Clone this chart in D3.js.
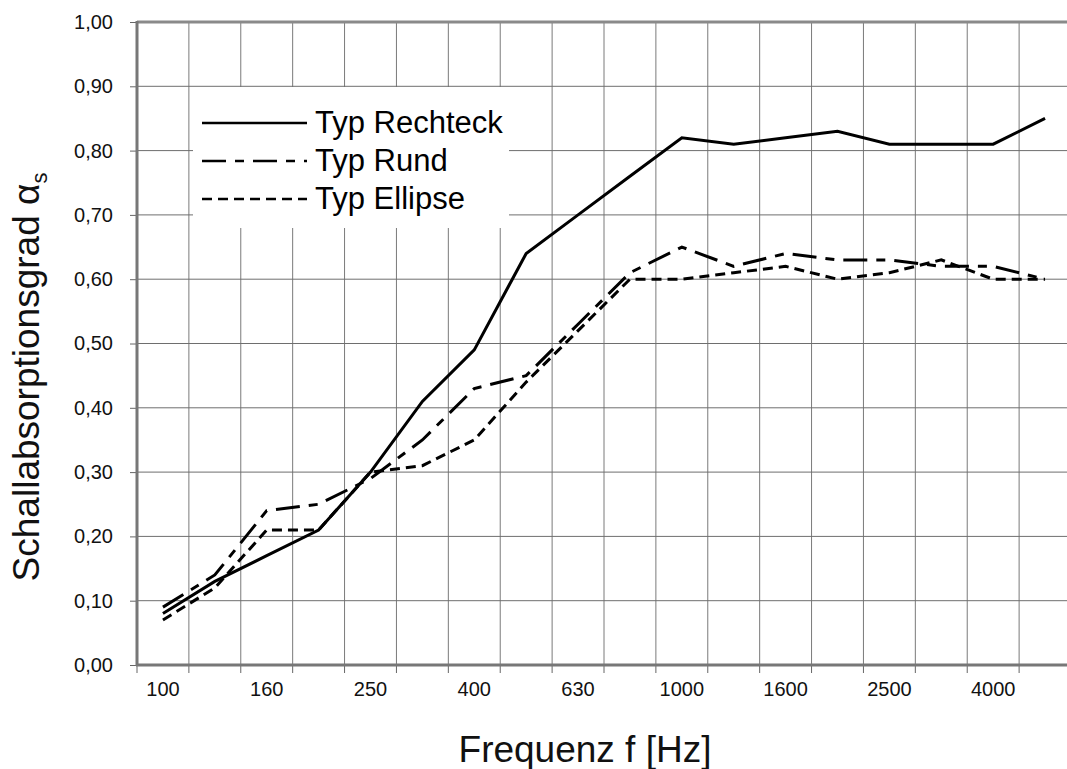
<!DOCTYPE html>
<html>
<head>
<meta charset="utf-8">
<script src="https://cdn.jsdelivr.net/npm/d3@7"></script>
<style>
  body { margin: 0; background: #fff; }
  svg { display: block; font-family: "Liberation Sans", Arial, Helvetica, sans-serif; }
</style>
</head>
<body>
<div id="chart"></div>
<script>
// third-octave bands, only every other one gets a label
var bands = ['100','125','160','200','250','315','400','500','630','800','1000','1250','1600','2000','2500','3150','4000','5000'];
var tickLabels = ['100','160','250','400','630','1000','1600','2500','4000'];
var yTicks = [0, 0.1, 0.2, 0.3, 0.4, 0.5, 0.6, 0.7, 0.8, 0.9, 1.0];

var rechteck = [0.08,0.13,0.17,0.21,0.30,0.41,0.49,0.64,0.70,0.76,0.82,0.81,0.82,0.83,0.81,0.81,0.81,0.85];
var rund     = [0.09,0.14,0.24,0.25,0.29,0.35,0.43,0.45,0.53,0.61,0.65,0.62,0.64,0.63,0.63,0.62,0.62,0.60];
var ellipse  = [0.07,0.12,0.21,0.21,0.30,0.31,0.35,0.44,0.52,0.60,0.60,0.61,0.62,0.60,0.61,0.63,0.60,0.60];

var seriesNames = ['Typ Rechteck', 'Typ Rund', 'Typ Ellipse'];

(function() {
  var series = [
    { name: seriesNames[0], values: rechteck, dash: null },
    { name: seriesNames[1], values: rund, dash: '24,9,9,9' },
    { name: seriesNames[2], values: ellipse, dash: '10,6' }
  ];

  var W = 1067, H = 769;
  var m = { left: 137, right: 1071, top: 22, bottom: 665 };

  var svg = d3.select('#chart').append('svg')
    .attr('width', W)
    .attr('height', H);

  var x = d3.scaleBand().domain(bands).range([m.left, m.right]);
  var y = d3.scaleLinear().domain([0, 1]).range([m.bottom, m.top]);

  var commaFmt = function(v) { return d3.format('.2f')(v).replace('.', ','); };

  // band boundaries for grid + tick marks
  var edges = bands.map(function(b) { return x(b); }).concat([m.right]);

  // grid
  svg.append('g').selectAll('line')
    .data(edges.slice(1))
    .enter().append('line')
    .attr('x1', function(d) { return d; })
    .attr('x2', function(d) { return d; })
    .attr('y1', m.top).attr('y2', m.bottom)
    .attr('stroke', '#7a7a7a')
    .attr('stroke-width', 1);

  svg.append('g').selectAll('line')
    .data(yTicks.slice(1, -1))
    .enter().append('line')
    .attr('x1', m.left).attr('x2', m.right)
    .attr('y1', function(d) { return y(d); })
    .attr('y2', function(d) { return y(d); })
    .attr('stroke', '#6e6e6e')
    .attr('stroke-width', 1);

  // white legend box sits over the grid
  svg.append('rect')
    .attr('x', 193).attr('y', 87)
    .attr('width', 316).attr('height', 141)
    .attr('fill', '#fff');

  // top border
  svg.append('line')
    .attr('x1', m.left).attr('x2', m.right)
    .attr('y1', m.top).attr('y2', m.top)
    .attr('stroke', '#8a8a8a').attr('stroke-width', 3);

  // y axis
  var yAxis = d3.axisLeft(y)
    .tickValues(yTicks)
    .tickFormat(commaFmt)
    .tickSize(7)
    .tickPadding(17);

  var gy = svg.append('g')
    .attr('transform', 'translate(' + m.left + ',0)')
    .call(yAxis)
    .attr('font-size', 20)
    .attr('font-family', '"Liberation Sans", Arial, sans-serif');
  gy.select('.domain').remove();
  gy.selectAll('.tick line').attr('stroke', '#666').attr('stroke-width', 1);
  gy.selectAll('.tick text').attr('fill', '#111');

  svg.append('line')
    .attr('x1', m.left).attr('x2', m.left)
    .attr('y1', m.top - 1).attr('y2', m.bottom + 1)
    .attr('stroke', '#777').attr('stroke-width', 3);

  // x axis: labels at band centres, tick marks at band edges
  var xAxis = d3.axisBottom(x)
    .tickValues(tickLabels)
    .tickSize(0)
    .tickPadding(17);

  var gx = svg.append('g')
    .attr('transform', 'translate(0,' + m.bottom + ')')
    .call(xAxis)
    .attr('font-size', 20)
    .attr('font-family', '"Liberation Sans", Arial, sans-serif');
  gx.select('.domain').remove();
  gx.selectAll('.tick text').attr('fill', '#111');

  svg.append('g').selectAll('line')
    .data(edges)
    .enter().append('line')
    .attr('x1', function(d) { return d; })
    .attr('x2', function(d) { return d; })
    .attr('y1', m.bottom).attr('y2', m.bottom + 8)
    .attr('stroke', '#666').attr('stroke-width', 1);

  svg.append('line')
    .attr('x1', m.left - 1).attr('x2', m.right)
    .attr('y1', m.bottom).attr('y2', m.bottom)
    .attr('stroke', '#777').attr('stroke-width', 3);

  // series lines
  var line = d3.line()
    .x(function(d, i) { return x(bands[i]) + x.bandwidth() / 2; })
    .y(function(d) { return y(d); });

  svg.append('g').selectAll('path')
    .data(series)
    .enter().append('path')
    .attr('d', function(s) { return line(s.values); })
    .attr('fill', 'none')
    .attr('stroke', '#000')
    .attr('stroke-width', 3)
    .attr('stroke-dasharray', function(s) { return s.dash; });

  // legend
  var legend = svg.append('g').selectAll('g')
    .data(series)
    .enter().append('g')
    .attr('transform', function(s, i) { return 'translate(202,' + (123 + i * 38) + ')'; });

  legend.append('line')
    .attr('x1', 0).attr('x2', 105)
    .attr('y1', 0).attr('y2', 0)
    .attr('stroke', '#000')
    .attr('stroke-width', 2.5)
    .attr('stroke-dasharray', function(s) { return s.dash; });

  legend.append('text')
    .attr('x', 113).attr('y', 10)
    .attr('font-size', 31)
    .attr('fill', '#000')
    .text(function(s) { return s.name; });

  // axis titles
  svg.append('text')
    .attr('x', 585).attr('y', 762)
    .attr('text-anchor', 'middle')
    .attr('font-size', 37)
    .attr('fill', '#111')
    .text('Frequenz f [Hz]');

  var yt = svg.append('text')
    .attr('transform', 'translate(39,377) rotate(-90)')
    .attr('text-anchor', 'middle')
    .attr('font-size', 37)
    .attr('fill', '#111');
  yt.append('tspan').text('Schallabsorptionsgrad α');
  yt.append('tspan').attr('font-size', 22).attr('dy', 8).text('s');
})();
</script>
</body>
</html>
